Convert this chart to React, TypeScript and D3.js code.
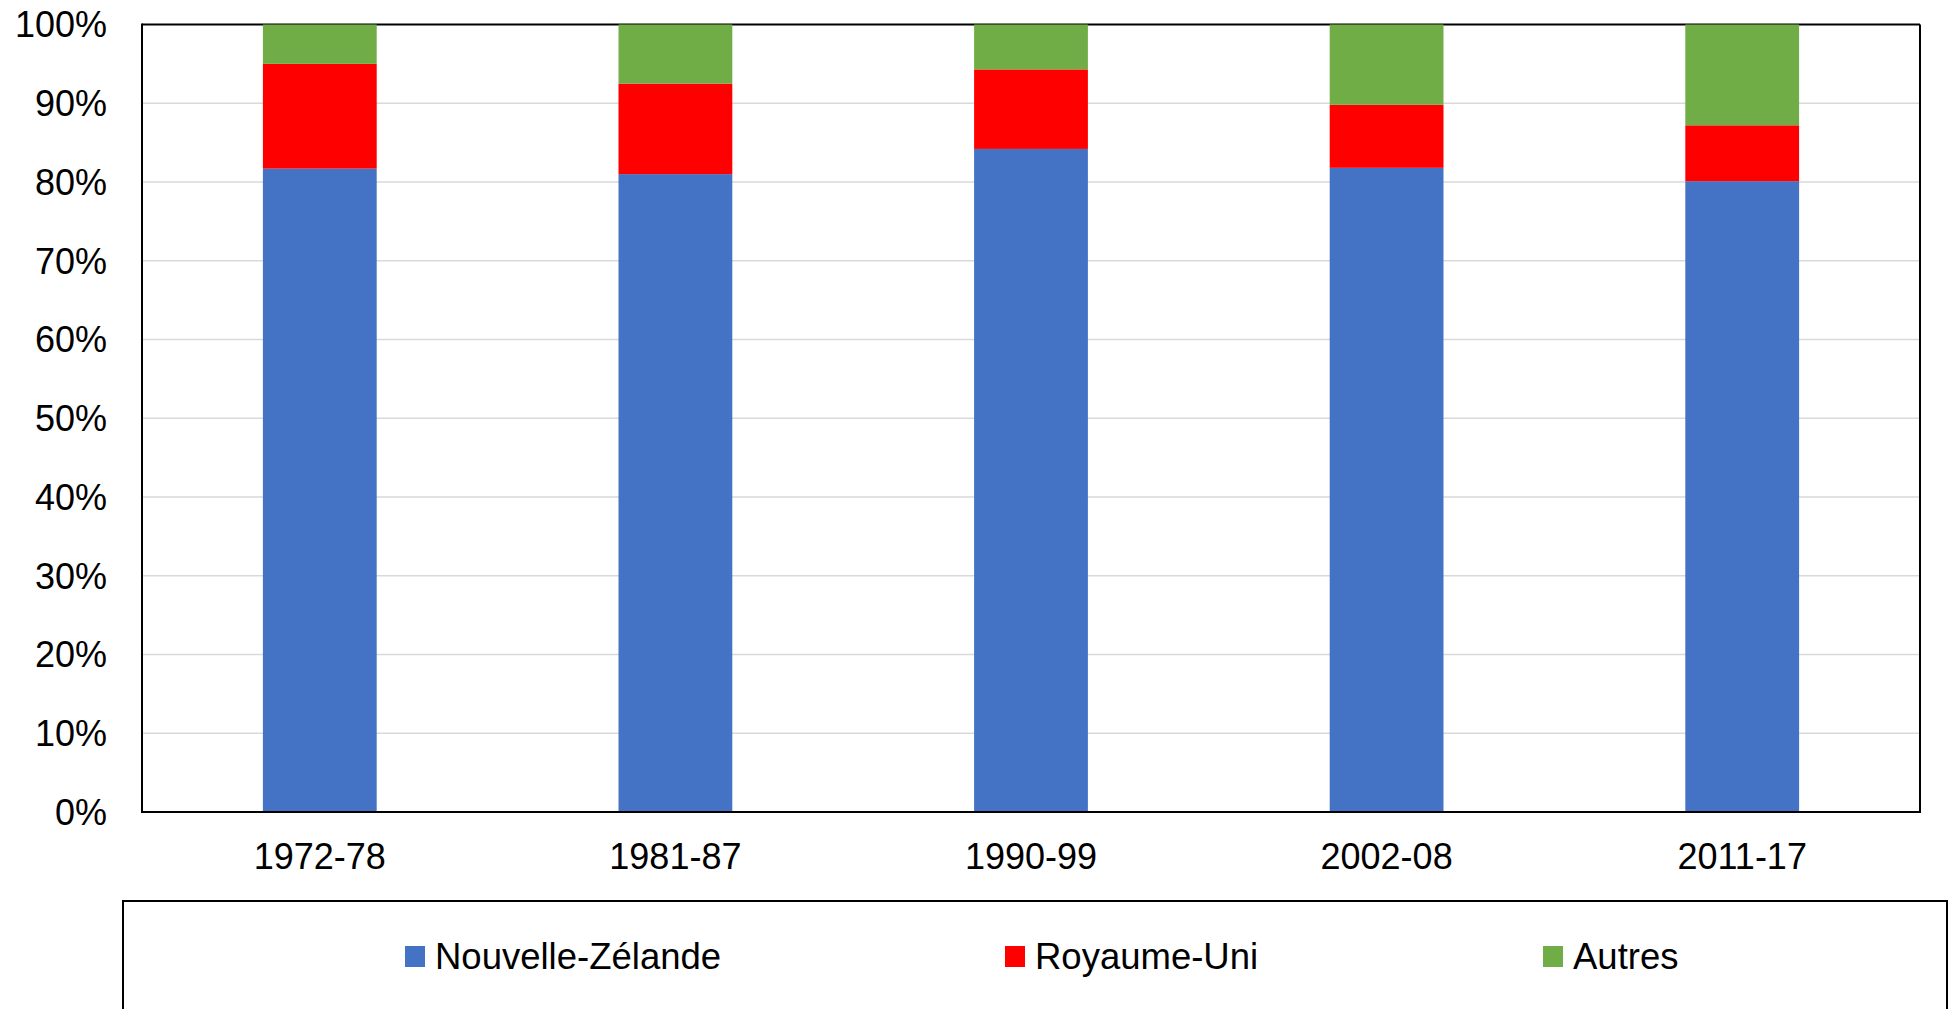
import React from "react";
import * as d3 from "d3";

const categories = ["1972-78", "1981-87", "1990-99", "2002-08", "2011-17"];
const nouvelleZelande = [81.7, 81.0, 84.2, 81.8, 80.1];
const royaumeUni = [13.3, 11.5, 10.1, 8.0, 7.1];
const autres = [5.0, 7.5, 5.7, 10.2, 12.8];
const seriesNames = ["Nouvelle-Zélande", "Royaume-Uni", "Autres"];
const seriesColors = ["#4472C4", "#FF0000", "#70AD47"];
const yTicks = [0, 10, 20, 30, 40, 50, 60, 70, 80, 90, 100];

const W = 1948;
const H = 1009;
const plot = { left: 142, right: 1920, top: 24.5, bottom: 812 };
const FONT = "'Liberation Sans', Arial, Helvetica, sans-serif";

export default function App() {
  const rows = categories.map((c, i) => ({
    cat: c,
    "Nouvelle-Zélande": nouvelleZelande[i],
    "Royaume-Uni": royaumeUni[i],
    Autres: autres[i],
  }));
  const stack = d3.stack<any>().keys(seriesNames)(rows);
  const x = d3
    .scaleBand()
    .domain(categories)
    .range([plot.left, plot.right])
    .paddingInner(0.68)
    .paddingOuter(0.34);
  const y = d3.scaleLinear().domain([0, 100]).range([plot.bottom, plot.top]);

  const legendX = [405, 1005, 1543];

  return (
    <svg
      width={W}
      height={H}
      style={{ position: "absolute", left: 0, top: 0, background: "#fff" }}
      fontFamily={FONT}
    >
      <rect x={0} y={0} width={W} height={H} fill="#fff" />
      {yTicks.map((t) => (
        <g key={t}>
          {t > 0 && t < 100 && (
            <line
              x1={plot.left}
              x2={plot.right}
              y1={y(t)}
              y2={y(t)}
              stroke="#d9d9d9"
              strokeWidth={1.5}
            />
          )}
          <text
            x={107}
            y={y(t)}
            dy="0.36em"
            textAnchor="end"
            fontSize={36}
            fill="#000"
          >
            {t}%
          </text>
        </g>
      ))}
      <line x1={plot.left} x2={plot.right} y1={plot.top} y2={plot.top} stroke="#000" strokeWidth={2} />
      <line x1={plot.right} x2={plot.right} y1={plot.top} y2={plot.bottom} stroke="#000" strokeWidth={2} />
      {stack.map((s, si) => (
        <g key={s.key} fill={seriesColors[si]}>
          {s.map((d: any, i: number) => (
            <rect
              key={i}
              x={x(categories[i])}
              width={x.bandwidth()}
              y={y(d[1])}
              height={y(d[0]) - y(d[1])}
            />
          ))}
        </g>
      ))}
      <line x1={plot.left} x2={plot.left} y1={plot.top - 1} y2={plot.bottom + 1} stroke="#000" strokeWidth={2} />
      <line x1={plot.left - 1} x2={plot.right + 1} y1={plot.bottom} y2={plot.bottom} stroke="#000" strokeWidth={2} />
      {categories.map((c) => (
        <text
          key={c}
          x={(x(c) as number) + x.bandwidth() / 2}
          y={869}
          textAnchor="middle"
          fontSize={36}
          fill="#000"
        >
          {c}
        </text>
      ))}
      <rect x={123} y={901} width={1824} height={200} fill="none" stroke="#000" strokeWidth={2} />
      {seriesNames.map((n, i) => (
        <g key={n}>
          <rect x={legendX[i]} y={946} width={20} height={21} fill={seriesColors[i]} />
          <text x={legendX[i] + 30} y={969} fontSize={36.5} fill="#000">
            {n}
          </text>
        </g>
      ))}
    </svg>
  );
}
